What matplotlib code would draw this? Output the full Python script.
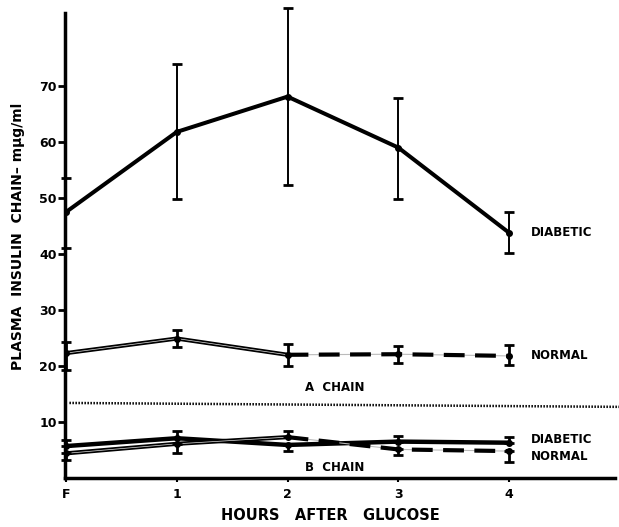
import numpy as np
import matplotlib
matplotlib.use("Agg")
import matplotlib.pyplot as plt

plt.rcParams['font.family'] = ['DejaVu Sans']
plt.rcParams['font.weight'] = 'bold'

# hours after glucose (F = fasting)
hours = [0, 1, 2, 3, 4]
hour_labels = ['F', '1', '2', '3', '4']

# A chain
diab_a = [47.5, 61.8, 68.1, 59.0, 43.8]
diab_a_lo = [41.1, 49.8, 52.3, 49.8, 40.1]
diab_a_hi = [53.6, 74.0, 83.9, 67.9, 47.5]

norm_a = [22.3, 24.9, 22.0, 22.1, 21.8]
norm_a_lo = [19.2, 23.4, 20.0, 20.5, 20.2]
norm_a_hi = [24.2, 26.4, 23.9, 23.6, 23.7]

# B chain
diab_b = [5.7, 7.1, 5.9, 6.5, 6.3]
diab_b_lo = [5.7, 7.1, 4.8, 6.5, 6.3]
diab_b_hi = [6.8, 8.4, 5.9, 7.5, 7.4]

norm_b = [4.4, 6.1, 7.3, 5.1, 4.8]
norm_b_lo = [3.2, 4.5, 7.3, 4.1, 2.9]
norm_b_hi = [4.4, 6.1, 8.4, 5.1, 4.8]

# separator between A and B chain panels
sep_x = [0.03, 5.0]
sep_y = [13.4, 12.7]

yticks = [10, 20, 30, 40, 50, 60, 70]


def err(vals, lo, hi):
    v = np.array(vals)
    return [v - np.array(lo), np.array(hi) - v]


def hollow_then_dashed(ax, x, y, split=2):
    # open (double) line up to hour 2, dashed afterwards
    ax.plot(x[:split + 1], y[:split + 1], color='black', lw=3.0, zorder=3)
    ax.plot(x[:split + 1], y[:split + 1], color='#e0e0e0', lw=0.5, zorder=4)
    ax.plot(x[split:], y[split:], color='#bbbbbb', lw=0.8, zorder=3)
    ax.plot(x[split:], y[split:], color='black', lw=3, dashes=(5, 2.5), zorder=3)


def bars(ax, x, y, lo, hi, ew):
    _, caps, lines = ax.errorbar(x, y, yerr=err(y, lo, hi), fmt='o', color='black',
                                 ms=4, elinewidth=ew, capsize=3.5, capthick=2, zorder=5)
    for a in list(caps) + list(lines):
        a.set_clip_on(False)


fig = plt.figure(figsize=(6.19, 5.27), dpi=100)
ax = fig.add_axes([0.105, 0.093, 0.889, 0.882])

# diabetic A chain
ax.plot(hours, diab_a, color='black', lw=2.9, zorder=3)
bars(ax, hours, diab_a, diab_a_lo, diab_a_hi, 1.4)

# normal A chain
hollow_then_dashed(ax, hours, norm_a)
bars(ax, hours, norm_a, norm_a_lo, norm_a_hi, 2)

# diabetic B chain
ax.plot(hours, diab_b, color='black', lw=3.2, zorder=3)
bars(ax, hours, diab_b, diab_b_lo, diab_b_hi, 2)

# normal B chain
hollow_then_dashed(ax, hours, norm_b)
bars(ax, hours, norm_b, norm_b_lo, norm_b_hi, 2)

ax.plot(sep_x, sep_y, color='black', lw=1.8, linestyle=(0, (0.6, 0.6)),
        clip_on=False, zorder=2)

# labels on the right
ax.text(4.2, diab_a[-1], 'DIABETIC', fontsize=8.5, va='center', ha='left')
ax.text(4.2, norm_a[-1], 'NORMAL', fontsize=8.5, va='center', ha='left')
ax.text(4.2, 6.8, 'DIABETIC', fontsize=8.5, va='center', ha='left')
ax.text(4.2, 3.9, 'NORMAL', fontsize=8.5, va='center', ha='left')
ax.text(2.16, 16.1, 'A  CHAIN', fontsize=8.5, va='center', ha='left')
ax.text(2.16, 1.8, 'B  CHAIN', fontsize=8.5, va='center', ha='left')

ax.set_xlim(-0.01, 4.96)
ax.set_ylim(0, 83)
ax.set_xticks(hours)
ax.set_xticklabels(hour_labels)
ax.set_yticks(yticks)

for side in ['top', 'right']:
    ax.spines[side].set_visible(False)
for side in ['left', 'bottom']:
    ax.spines[side].set_linewidth(2.5)

ax.tick_params(axis='y', direction='out', length=5, width=2, labelsize=9, pad=1)
ax.tick_params(axis='x', direction='out', length=3, width=1.5, labelsize=9, pad=4)

fig.text(18 / 619, 1 - 236 / 527, 'PLASMA  INSULIN  CHAIN– mμg/ml', rotation=90,
         ha='center', va='center', fontsize=10)
fig.text(330 / 619, 1 - 516 / 527, 'HOURS   AFTER   GLUCOSE', ha='center',
         va='center', fontsize=10.5)

fig.savefig('out.png', dpi=100)
